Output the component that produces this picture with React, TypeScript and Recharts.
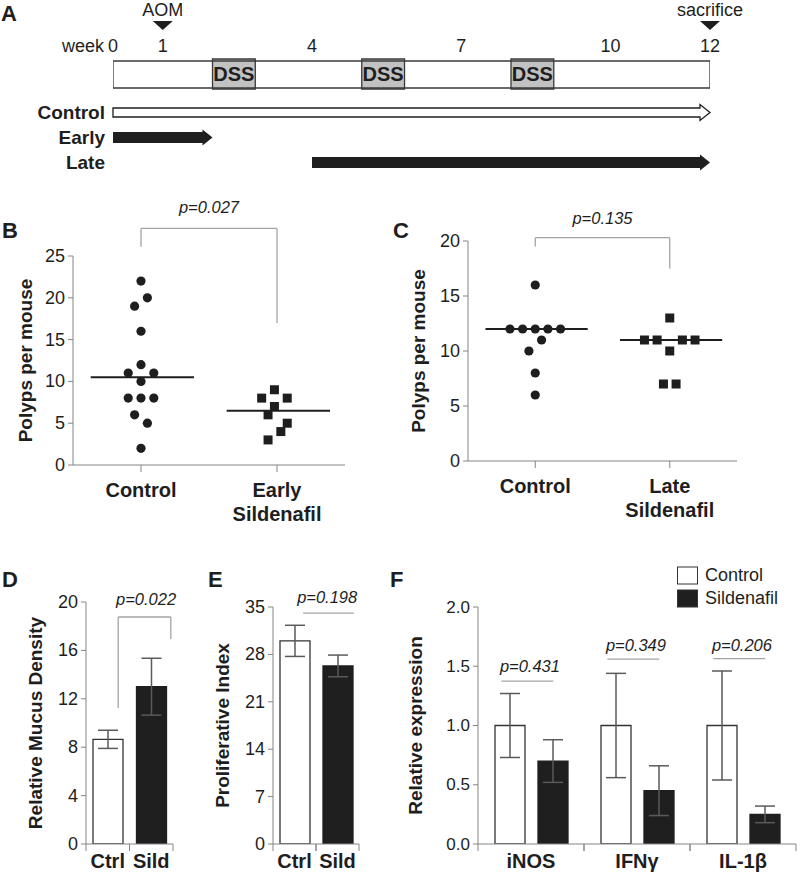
import React from 'react';
import {
  Bar,
  BarChart,
  Cell,
  ComposedChart,
  ErrorBar,
  Legend,
  ReferenceArea,
  ReferenceDot,
  ReferenceLine,
  Scatter,
  XAxis,
  YAxis,
} from 'recharts';

const FONT = '"Liberation Sans", Arial, Helvetica, sans-serif';
const INK = '#1e1e1e';
const AXIS = '#858585';
const BRACKET = '#a3a3a3';
const ERR = '#5a5a5a';
const BLACK = '#1f1f1f';

// A: study design (weeks)
const weekTicks = [0, 1, 4, 7, 10, 12];
const dssStarts = [2, 5, 8];
const dssLength = 0.86;
const eventWeeks = [1, 12];
const eventNames = ['AOM', 'sacrifice'];
const regimenGroups = ['Control', 'Early', 'Late'];
const regimenWeeks = [
  [0, 12],
  [0, 2],
  [4, 12],
];

// B / C: polyps per mouse, j = horizontal jitter step
type Pt = { v: number; j: number };
const polypsControlB: Pt[] = [
  { v: 22, j: 0 }, { v: 20, j: 1 }, { v: 19, j: -1 }, { v: 16, j: 0 },
  { v: 12, j: 0 }, { v: 11, j: -2 }, { v: 11, j: 2 }, { v: 10, j: 0 },
  { v: 8, j: -2 }, { v: 8, j: 0 }, { v: 8, j: 2 }, { v: 6, j: -1 },
  { v: 5, j: 1 }, { v: 2, j: 0 },
];
const polypsEarly: Pt[] = [
  { v: 9, j: -0.4 }, { v: 8, j: -2.4 }, { v: 8, j: 1.6 }, { v: 7, j: -0.4 },
  { v: 6, j: -1.4 }, { v: 5, j: 1.6 }, { v: 4, j: 0.6 }, { v: 3, j: -1.4 },
];
const polypsControlC: Pt[] = [
  { v: 16, j: 0 }, { v: 12, j: -4 }, { v: 12, j: -2 }, { v: 12, j: 0 },
  { v: 12, j: 2 }, { v: 12, j: 4 }, { v: 11, j: 1 }, { v: 10, j: -1 },
  { v: 8, j: 0 }, { v: 6, j: 0 },
];
const polypsLate: Pt[] = [
  { v: 13, j: 0 }, { v: 11, j: -4 }, { v: 11, j: -2 }, { v: 11, j: 2 },
  { v: 11, j: 4 }, { v: 10, j: 0 }, { v: 7, j: -1 }, { v: 7, j: 1 },
];
const groupLabelsB = [['Control'], ['Early', 'Sildenafil']];
const groupLabelsC = [['Control'], ['Late', 'Sildenafil']];
const ticksB = [0, 5, 10, 15, 20, 25];
const ticksC = [0, 5, 10, 15, 20];

// D / E
const pairGroups = ['Ctrl', 'Sild'];
const mucusMean = [8.65, 13.0];
const mucusErr = [0.75, 2.35];
const prolifMean = [30.0, 26.3];
const prolifErr = [2.3, 1.6];
const mucusTicks = [0, 4, 8, 12, 16, 20];
const prolifTicks = [0, 7, 14, 21, 28, 35];

// F
const cytokines = ['iNOS', 'IFNγ', 'IL-1β'];
const exprControl = [1.0, 1.0, 1.0];
const exprControlErr = [0.27, 0.44, 0.46];
const exprSild = [0.7, 0.45, 0.25];
const exprSildErr = [0.18, 0.21, 0.07];
const exprTicks = [0, 0.5, 1, 1.5, 2];

const pB = 'p=0.027';
const pC = 'p=0.135';
const pD = 'p=0.022';
const pE = 'p=0.198';
const pF = ['p=0.431', 'p=0.349', 'p=0.206'];

const JIT = 0.047;
const MEDIAN_SPAN = [-0.37, 0.39];

const median = (xs: number[]) => {
  const s = [...xs].sort((a, b) => a - b);
  const m = Math.floor(s.length / 2);
  return s.length % 2 ? s[m] : (s[m - 1] + s[m]) / 2;
};

const yTitle = (text: string, gap: number) => (p: any) => {
  const vb = p.viewBox || { x: 0, y: 0, width: 0, height: 0 };
  const cx = vb.x + vb.width - gap;
  const cy = vb.y + vb.height / 2;
  return (
    <text
      x={cx}
      y={cy}
      transform={`rotate(-90 ${cx} ${cy})`}
      textAnchor="middle"
      dominantBaseline="central"
      fontSize={19}
      fontWeight={700}
      fill={INK}
      fontFamily={FONT}>
      {text}
    </text>
  );
};

const pTextShape = (text: string, dx = 0) => (p: any) => (
  <text
    x={p.cx + dx}
    y={p.cy}
    textAnchor="middle"
    dominantBaseline="central"
    fontSize={16.5}
    fontStyle="italic"
    fill={INK}
    fontFamily={FONT}>
    {text}
  </text>
);

// line between two band centres, each end nudged sideways
const shiftedLine = (d1: number, d2: number) => (p: any) => (
  <line
    x1={p.x1 + d1}
    y1={p.y1}
    x2={p.x2 + d2}
    y2={p.y2}
    stroke={BRACKET}
    strokeWidth={1.3}
  />
);

const yTick = (size: number, fmt?: (v: number) => string) => (p: any) => (
  <text
    x={p.x}
    y={p.y}
    textAnchor="end"
    dominantBaseline="central"
    fontSize={size}
    fill={INK}
    fontFamily={FONT}>
    {fmt ? fmt(p.payload.value) : p.payload.value}
  </text>
);

// ---------- A ----------
const WeekTick = ({ x, y, payload }: any) => (
  <g fontFamily={FONT} fontSize={18} fill={INK}>
    {payload.value === 0 && (
      <text x={x - 9} y={y} textAnchor="end">
        week
      </text>
    )}
    <text x={x} y={y} textAnchor="middle">
      {payload.value}
    </text>
  </g>
);

const EventTick = ({ x, y, payload }: any) => {
  const name = eventNames[eventWeeks.indexOf(payload.value)];
  return (
    <g>
      <polygon points={`${x - 10},${y - 8} ${x + 10},${y - 8} ${x},${y + 1}`} fill={INK} />
      <text x={x} y={y - 13} textAnchor="middle" fontSize={18} fill={INK} fontFamily={FONT}>
        {name}
      </text>
    </g>
  );
};

const ArrowShape = (props: any) => {
  const { x, y, width, height, fill } = props;
  const hollow = fill === '#fff';
  const cy = y + height / 2;
  const shaft = hollow ? 4.5 : 5.5;
  const head = 10;
  const xe = x + width;
  const pts = [
    [x, cy - shaft],
    [xe - head, cy - shaft],
    [xe - head, y],
    [xe, cy],
    [xe - head, y + height],
    [xe - head, cy + shaft],
    [x, cy + shaft],
  ]
    .map((q) => q.join(','))
    .join(' ');
  return (
    <polygon points={pts} fill={fill} stroke={INK} strokeWidth={hollow ? 1.3 : 0} />
  );
};

const timelineRows = [{ row: 'design', weeks: [0, 12] }];

// axis ids sort so the week row sits next to the box, events above it
const Timeline = () => (
  <ComposedChart
    layout="vertical"
    width={800}
    height={100}
    data={timelineRows}
    barCategoryGap={0}
    margin={{ top: 0, right: 90, bottom: 11, left: 113 }}>
    <XAxis
      xAxisId="a"
      dataKey="weeks"
      type="number"
      orientation="top"
      domain={[0, 12]}
      allowDataOverflow
      ticks={weekTicks}
      interval={0}
      height={30}
      tickSize={6}
      tickMargin={1}
      axisLine={false}
      tickLine={false}
      tick={<WeekTick />}
    />
    <XAxis
      xAxisId="b"
      dataKey="weeks"
      type="number"
      orientation="top"
      domain={[0, 12]}
      allowDataOverflow
      ticks={eventWeeks}
      interval={0}
      height={29}
      tickSize={0}
      tickMargin={0}
      axisLine={false}
      tickLine={false}
      tick={<EventTick />}
    />
    <YAxis type="category" dataKey="row" hide />
    <Bar
      xAxisId="a"
      dataKey="weeks"
      barSize={30}
      fill="none"
      stroke="#3a3a3a"
      strokeWidth={1.3}
      isAnimationActive={false}
    />
    {dssStarts.map((s) => (
      <ReferenceArea
        key={s}
        xAxisId="a"
        x1={s}
        x2={s + dssLength}
        fill="#c2c2c2"
        fillOpacity={1}
        stroke="#3a3a3a"
        strokeWidth={1.3}
        label={{
          value: 'DSS',
          position: 'center',
          fontSize: 20,
          fontWeight: 700,
          fill: INK,
          fontFamily: FONT,
        }}
      />
    ))}
  </ComposedChart>
);

const regimenRows = regimenGroups.map((g, i) => ({ group: g, weeks: regimenWeeks[i] }));

const Regimens = () => (
  <ComposedChart
    layout="vertical"
    width={800}
    height={190}
    data={regimenRows}
    margin={{ top: 99.5, right: 90, bottom: 15.5, left: 0 }}>
    <XAxis type="number" domain={[0, 12]} hide />
    <YAxis
      type="category"
      dataKey="group"
      width={113}
      interval={0}
      axisLine={false}
      tickLine={false}
      tickSize={6}
      tickMargin={2}
      tick={{ fontSize: 19, fontWeight: 700, fill: INK, fontFamily: FONT }}
    />
    <Bar dataKey="weeks" barSize={16} shape={ArrowShape} isAnimationActive={false}>
      {regimenRows.map((r, i) => (
        <Cell key={r.group} fill={i === 0 ? '#fff' : BLACK} />
      ))}
    </Bar>
  </ComposedChart>
);

// ---------- B / C ----------
const GroupTick = ({ x, y, payload, lines }: any) => {
  const rows: string[] = lines[payload.value] || [];
  return (
    <g>
      {rows.map((r, i) => (
        <text
          key={r}
          x={x}
          y={y + 25 + i * 24}
          textAnchor="middle"
          fontSize={20}
          fontWeight={700}
          fill={INK}
          fontFamily={FONT}>
          {r}
        </text>
      ))}
    </g>
  );
};

const Dot = (p: any) => <circle cx={p.cx} cy={p.cy} r={4.6} fill={INK} />;
const Sq = (p: any) => (
  <rect x={p.cx - 4.5} y={p.cy - 4.5} width={9} height={9} fill={INK} />
);

const PolypPanel = ({ control, treated, lines, ticks, pText, bk, titleGap, margin, yW }: any) => {
  const ctrl = control.map((d: Pt) => ({ x: d.j * JIT, y: d.v }));
  const trt = treated.map((d: Pt) => ({ x: 1 + d.j * JIT, y: d.v }));
  const meds = [control, treated].map((g: Pt[]) => median(g.map((d) => d.v)));
  const yMax = ticks[ticks.length - 1];
  const line = { stroke: BRACKET, strokeWidth: 1.3, ifOverflow: 'visible' as const };
  return (
    <ComposedChart width={400} height={360} margin={margin}>
      <XAxis
        type="number"
        dataKey="x"
        domain={[-0.5, 1.5]}
        ticks={[0, 1]}
        interval={0}
        allowDataOverflow
        height={50}
        tickSize={7}
        tickMargin={0}
        axisLine={{ stroke: AXIS }}
        tickLine={{ stroke: AXIS }}
        tick={<GroupTick lines={lines} />}
      />
      <YAxis
        type="number"
        dataKey="y"
        domain={[0, yMax]}
        ticks={ticks}
        interval={0}
        allowDataOverflow
        width={yW}
        tickSize={5}
        tickMargin={3}
        axisLine={{ stroke: AXIS }}
        tickLine={{ stroke: AXIS }}
        tick={yTick(18)}
        label={yTitle('Polyps per mouse', titleGap)}
      />
      {meds.map((m, g) => (
        <ReferenceLine
          key={g}
          segment={[
            { x: g + MEDIAN_SPAN[0], y: m },
            { x: g + MEDIAN_SPAN[1], y: m },
          ]}
          stroke={INK}
          strokeWidth={2}
        />
      ))}
      <Scatter data={ctrl} shape={Dot} isAnimationActive={false} />
      <Scatter data={trt} shape={Sq} isAnimationActive={false} />
      <ReferenceLine segment={[{ x: 0, y: bk.leftFoot }, { x: 0, y: bk.top }]} {...line} />
      <ReferenceLine segment={[{ x: 0, y: bk.top }, { x: 1, y: bk.top }]} {...line} />
      <ReferenceLine segment={[{ x: 1, y: bk.top }, { x: 1, y: bk.rightFoot }]} {...line} />
      <ReferenceDot x={0.5} y={bk.textY} r={0} ifOverflow="visible" shape={pTextShape(pText)} />
    </ComposedChart>
  );
};

// ---------- D / E / F ----------
const CatTick = ({ x, y, payload, half }: any) => (
  <g>
    <line x1={x - half} y1={y} x2={x - half} y2={y + 7} stroke={AXIS} />
    <line x1={x + half} y1={y} x2={x + half} y2={y + 7} stroke={AXIS} />
    <text
      x={x}
      y={y + 23.5}
      textAnchor="middle"
      fontSize={20}
      fontWeight={700}
      fill={INK}
      fontFamily={FONT}>
      {payload.value}
    </text>
  </g>
);

// segment = [cat1, shift1, y1, cat2, shift2, y2], shifts in band widths
const PairPanel = ({ means, errs, ticks, title, titleGap, margin, yW, segs, pText, pAt }: any) => {
  const rows = pairGroups.map((g, i) => ({ g, mean: means[i], err: errs[i] }));
  const plotW = 200 - margin.right - margin.left - yW;
  const bw = plotW / pairGroups.length;
  return (
    <BarChart width={200} height={334} data={rows} margin={margin}>
      <XAxis
        dataKey="g"
        height={30}
        interval={0}
        tickSize={0}
        tickMargin={0}
        axisLine={{ stroke: AXIS }}
        tickLine={false}
        tick={<CatTick half={bw / 2} />}
      />
      <YAxis
        domain={[0, ticks[ticks.length - 1]]}
        ticks={ticks}
        interval={0}
        allowDataOverflow
        width={yW}
        tickSize={5}
        tickMargin={3}
        axisLine={{ stroke: AXIS }}
        tickLine={{ stroke: AXIS }}
        tick={yTick(18)}
        label={yTitle(title, titleGap)}
      />
      <Bar dataKey="mean" barSize={30} isAnimationActive={false}>
        {rows.map((r, i) => (
          <Cell
            key={r.g}
            fill={i === 0 ? '#fff' : BLACK}
            stroke={i === 0 ? '#333' : BLACK}
            strokeWidth={1.3}
          />
        ))}
        <ErrorBar dataKey="err" width={10} stroke={ERR} strokeWidth={1.5} isAnimationActive={false} />
      </Bar>
      {segs.map((s: any[], i: number) => (
        <ReferenceLine
          key={i}
          segment={[
            { x: s[0], y: s[2] },
            { x: s[3], y: s[5] },
          ]}
          ifOverflow="visible"
          shape={shiftedLine(s[1] * bw, s[4] * bw)}
        />
      ))}
      <ReferenceDot
        x={pAt[0]}
        y={pAt[2]}
        r={0}
        ifOverflow="visible"
        shape={pTextShape(pText, pAt[1] * bw)}
      />
    </BarChart>
  );
};

const LegendBox = ({ payload }: any) => (
  <div style={{ fontFamily: FONT, fontSize: 18, color: INK, lineHeight: '23px' }}>
    {(payload || []).map((e: any) => (
      <div key={e.value} style={{ display: 'flex', alignItems: 'center', height: 23 }}>
        <svg width={21} height={19} style={{ display: 'block' }}>
          <rect x={0.5} y={1} width={20} height={17} fill={e.color} stroke="#333" />
        </svg>
        <span style={{ marginLeft: 7 }}>{e.value}</span>
      </div>
    ))}
  </div>
);

const CytokinePanel = () => {
  const rows = cytokines.map((c, i) => ({
    name: c,
    control: exprControl[i],
    controlErr: exprControlErr[i],
    sildenafil: exprSild[i],
    sildenafilErr: exprSildErr[i],
  }));
  const margin = { top: 67, right: 4, bottom: 0, left: 0 };
  const yW = 78;
  const bw = (400 - margin.right - yW) / cytokines.length;
  const lineY = [1.375, 1.56, 1.565];
  const textY = [1.5, 1.68, 1.68];
  return (
    <BarChart width={400} height={334} data={rows} margin={margin} barGap={13}>
      <XAxis
        dataKey="name"
        height={30}
        interval={0}
        tickSize={0}
        tickMargin={0}
        axisLine={{ stroke: AXIS }}
        tickLine={false}
        tick={<CatTick half={bw / 2} />}
      />
      <YAxis
        domain={[0, 2]}
        ticks={exprTicks}
        interval={0}
        allowDataOverflow
        width={yW}
        tickSize={5}
        tickMargin={3}
        axisLine={{ stroke: AXIS }}
        tickLine={{ stroke: AXIS }}
        tick={yTick(17, (v) => v.toFixed(1))}
        label={yTitle('Relative expression', 63)}
      />
      <Legend
        layout="horizontal"
        align="center"
        verticalAlign="middle"
        wrapperStyle={{ left: 277, top: 24, width: 'auto' }}
        content={<LegendBox />}
      />
      <Bar
        dataKey="control"
        name="Control"
        fill="#fff"
        stroke="#333"
        strokeWidth={1.3}
        barSize={30}
        isAnimationActive={false}>
        <ErrorBar dataKey="controlErr" width={10} stroke={ERR} strokeWidth={1.5} isAnimationActive={false} />
      </Bar>
      <Bar
        dataKey="sildenafil"
        name="Sildenafil"
        fill={BLACK}
        stroke={BLACK}
        strokeWidth={1.3}
        barSize={30}
        isAnimationActive={false}>
        <ErrorBar dataKey="sildenafilErr" width={10} stroke={ERR} strokeWidth={1.5} isAnimationActive={false} />
      </Bar>
      {cytokines.map((c, i) => (
        <ReferenceLine
          key={c}
          segment={[
            { x: c, y: lineY[i] },
            { x: c, y: lineY[i] },
          ]}
          ifOverflow="visible"
          shape={shiftedLine(-0.28 * bw, 0.21 * bw)}
        />
      ))}
      {cytokines.map((c, i) => (
        <ReferenceDot
          key={c + 'p'}
          x={c}
          y={textY[i]}
          r={0}
          ifOverflow="visible"
          shape={pTextShape(pF[i], -0.01 * bw)}
        />
      ))}
    </BarChart>
  );
};

const Box = ({ left, top, children }: any) => (
  <div style={{ position: 'absolute', left, top }}>{children}</div>
);

const Letter = ({ x, y, t }: any) => (
  <text x={x} y={y} fontSize={22} fontWeight={700} fill={INK} fontFamily={FONT}>
    {t}
  </text>
);

export default function App() {
  return (
    <div
      style={{
        position: 'absolute',
        left: 0,
        top: 0,
        width: 800,
        height: 874,
        background: '#fff',
        overflow: 'hidden',
        fontFamily: FONT,
      }}>
      <Box left={0} top={0}>
        <Timeline />
      </Box>
      <Box left={0} top={0}>
        <Regimens />
      </Box>
      <Box left={0} top={180}>
        <PolypPanel
          control={polypsControlB}
          treated={polypsEarly}
          lines={groupLabelsB}
          ticks={ticksB}
          pText={pB}
          bk={{ top: 28.3, leftFoot: 26.1, rightFoot: 17, textY: 30.9 }}
          titleGap={48}
          margin={{ top: 76, right: 55, bottom: 25, left: 0 }}
          yW={73}
        />
      </Box>
      <Box left={400} top={180}>
        <PolypPanel
          control={polypsControlC}
          treated={polypsLate}
          lines={groupLabelsC}
          ticks={ticksC}
          pText={pC}
          bk={{ top: 20.3, leftFoot: 19.5, rightFoot: 17.5, textY: 22.1 }}
          titleGap={50}
          margin={{ top: 61, right: 63, bottom: 29, left: 0 }}
          yW={68}
        />
      </Box>
      <Box left={0} top={540}>
        <PairPanel
          means={mucusMean}
          errs={mucusErr}
          ticks={mucusTicks}
          title="Relative Mucus Density"
          titleGap={51}
          margin={{ top: 62, right: 27, bottom: 0, left: 0 }}
          yW={86}
          segs={[
            ['Ctrl', 0.24, 11.24, 'Ctrl', 0.24, 18.76],
            ['Ctrl', 0.24, 18.76, 'Sild', 0.45, 18.76],
            ['Sild', 0.45, 18.76, 'Sild', 0.45, 16.94],
          ]}
          pText={pD}
          pAt={['Sild', -0.12, 20.25]}
        />
      </Box>
      <Box left={200} top={540}>
        <PairPanel
          means={prolifMean}
          errs={prolifErr}
          ticks={prolifTicks}
          title="Proliferative Index"
          titleGap={51}
          margin={{ top: 67, right: 41, bottom: 0, left: 0 }}
          yW={73}
          segs={[['Ctrl', 0.2, 34.1, 'Sild', 0.38, 34.1]]}
          pText={pE}
          pAt={['Sild', -0.24, 36.5]}
        />
      </Box>
      <Box left={400} top={540}>
        <CytokinePanel />
      </Box>
      <svg
        width={800}
        height={874}
        style={{ position: 'absolute', left: 0, top: 0, pointerEvents: 'none' }}>
        <Letter x={1} y={21} t="A" />
        <Letter x={2} y={238} t="B" />
        <Letter x={393} y={238} t="C" />
        <Letter x={2} y={587} t="D" />
        <Letter x={208} y={587} t="E" />
        <Letter x={390} y={587} t="F" />
      </svg>
    </div>
  );
}
